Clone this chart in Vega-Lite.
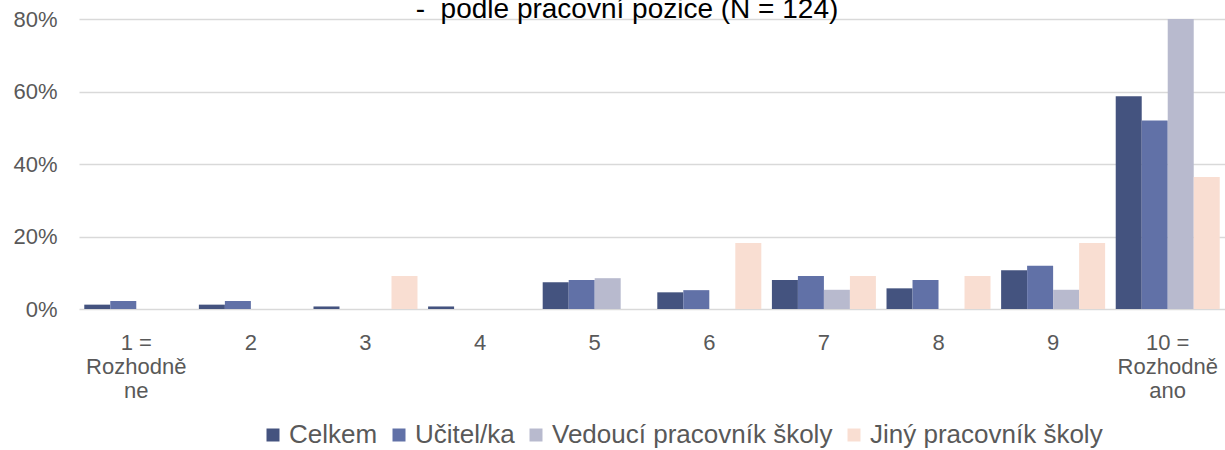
{
  "$schema": "https://vega.github.io/schema/vega-lite/v6.json",
  "width": 1146,
  "height": 290,
  "autosize": {"type": "none"},
  "padding": {"left": 79, "top": 19, "right": 0, "bottom": 141},
  "background": "white",
  "title": {
    "text": "-\u00a0 podle pracovní pozice (N = 124)",
    "font": "Liberation Sans",
    "fontSize": 28,
    "fontWeight": "normal",
    "color": "#000000",
    "anchor": "middle",
    "frame": "group",
    "baseline": "alphabetic",
    "offset": 0,
    "dx": -25,
    "dy": 38
  },
  "data": {
    "values": [
      {"category": "1 =|Rozhodně|ne", "series": "Celkem", "value": 0.012},
      {"category": "1 =|Rozhodně|ne", "series": "Učitel/ka", "value": 0.022},
      {"category": "1 =|Rozhodně|ne", "series": "Vedoucí pracovník školy", "value": 0},
      {"category": "1 =|Rozhodně|ne", "series": "Jiný pracovník školy", "value": 0},
      {"category": "2", "series": "Celkem", "value": 0.012},
      {"category": "2", "series": "Učitel/ka", "value": 0.022},
      {"category": "2", "series": "Vedoucí pracovník školy", "value": 0},
      {"category": "2", "series": "Jiný pracovník školy", "value": 0},
      {"category": "3", "series": "Celkem", "value": 0.007},
      {"category": "3", "series": "Učitel/ka", "value": 0},
      {"category": "3", "series": "Vedoucí pracovník školy", "value": 0},
      {"category": "3", "series": "Jiný pracovník školy", "value": 0.091},
      {"category": "4", "series": "Celkem", "value": 0.007},
      {"category": "4", "series": "Učitel/ka", "value": 0},
      {"category": "4", "series": "Vedoucí pracovník školy", "value": 0},
      {"category": "4", "series": "Jiný pracovník školy", "value": 0},
      {"category": "5", "series": "Celkem", "value": 0.074},
      {"category": "5", "series": "Učitel/ka", "value": 0.080},
      {"category": "5", "series": "Vedoucí pracovník školy", "value": 0.085},
      {"category": "5", "series": "Jiný pracovník školy", "value": 0},
      {"category": "6", "series": "Celkem", "value": 0.046},
      {"category": "6", "series": "Učitel/ka", "value": 0.052},
      {"category": "6", "series": "Vedoucí pracovník školy", "value": 0},
      {"category": "6", "series": "Jiný pracovník školy", "value": 0.182},
      {"category": "7", "series": "Celkem", "value": 0.080},
      {"category": "7", "series": "Učitel/ka", "value": 0.091},
      {"category": "7", "series": "Vedoucí pracovník školy", "value": 0.053},
      {"category": "7", "series": "Jiný pracovník školy", "value": 0.091},
      {"category": "8", "series": "Celkem", "value": 0.057},
      {"category": "8", "series": "Učitel/ka", "value": 0.080},
      {"category": "8", "series": "Vedoucí pracovník školy", "value": 0},
      {"category": "8", "series": "Jiný pracovník školy", "value": 0.091},
      {"category": "9", "series": "Celkem", "value": 0.107},
      {"category": "9", "series": "Učitel/ka", "value": 0.119},
      {"category": "9", "series": "Vedoucí pracovník školy", "value": 0.053},
      {"category": "9", "series": "Jiný pracovník školy", "value": 0.182},
      {"category": "10 =|Rozhodně|ano", "series": "Celkem", "value": 0.587},
      {"category": "10 =|Rozhodně|ano", "series": "Učitel/ka", "value": 0.520},
      {"category": "10 =|Rozhodně|ano", "series": "Vedoucí pracovník školy", "value": 0.842},
      {"category": "10 =|Rozhodně|ano", "series": "Jiný pracovník školy", "value": 0.364}
    ]
  },
  "mark": {"type": "bar", "clip": true},
  "encoding": {
    "x": {
      "field": "category",
      "type": "nominal",
      "sort": null,
      "scale": {"paddingInner": 0.0925, "paddingOuter": 0.046},
      "axis": {
        "title": null,
        "labelAngle": 0,
        "labelExpr": "split(datum.label, '|')",
        "labelFont": "Liberation Sans",
        "labelFontSize": 22,
        "labelColor": "#595959",
        "labelPadding": 23,
        "labelLineHeight": 24,
        "ticks": false,
        "tickSize": 0,
        "domain": false,
        "grid": false
      }
    },
    "xOffset": {
      "field": "series",
      "type": "nominal",
      "sort": ["Celkem", "Učitel/ka", "Vedoucí pracovník školy", "Jiný pracovník školy"],
      "scale": {"paddingInner": 0, "paddingOuter": 0}
    },
    "y": {
      "field": "value",
      "type": "quantitative",
      "scale": {"domain": [0, 0.8], "nice": false},
      "axis": {
        "title": null,
        "format": ".0%",
        "values": [0, 0.2, 0.4, 0.6, 0.8],
        "domain": false,
        "ticks": false,
        "tickSize": 0,
        "labelPadding": 22,
        "labelFont": "Liberation Sans",
        "labelFontSize": 22,
        "labelColor": "#595959",
        "gridColor": "#d9d9d9",
        "gridWidth": 1.5
      }
    },
    "color": {
      "field": "series",
      "type": "nominal",
      "scale": {
        "domain": ["Celkem", "Učitel/ka", "Vedoucí pracovník školy", "Jiný pracovník školy"],
        "range": ["#44537f", "#6171a7", "#b8bace", "#f9ded2"]
      },
      "legend": {
        "title": null,
        "orient": "none",
        "legendX": 181,
        "legendY": 403,
        "direction": "horizontal",
        "symbolType": "square",
        "symbolSize": 169,
        "symbolStrokeWidth": 0,
        "labelFont": "Liberation Sans",
        "labelFontSize": 26,
        "labelColor": "#595959",
        "labelOffset": 3,
        "columnPadding": 8,
        "labelLimit": 400
      }
    }
  },
  "config": {"view": {"stroke": null}}
}
